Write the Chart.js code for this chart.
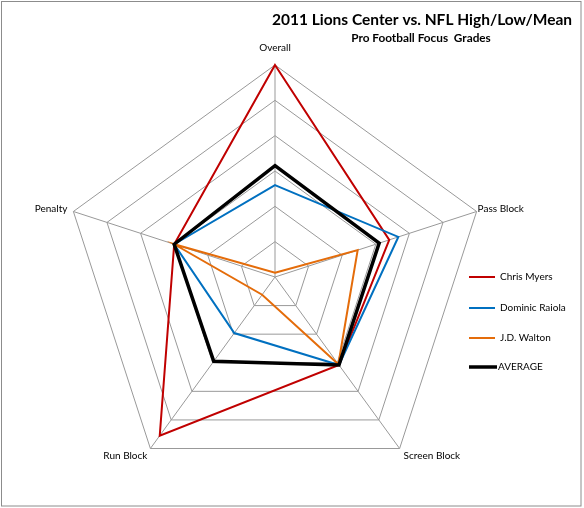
<!DOCTYPE html>
<html>
<head>
<meta charset="utf-8">
<title>2011 Lions Center vs. NFL High/Low/Mean</title>
<script src="https://cdn.jsdelivr.net/npm/chart.js"></script>
<style>
    body { margin: 0; background: #fff; }
    canvas { display: block; }
</style>
</head>
<body>
<canvas id="myChartRadar" width="584" height="508"></canvas>
<script>
// categories, clockwise from the top
let categorias = ['Overall', 'Pass Block', 'Screen Block', 'Run Block', 'Penalty'];

// grades on a 0..6 ring scale (3 = NFL mean)
let chrisMyers = [6.0, 3.4, 3.08, 5.55, 3.0];
let dominicRaiola = [2.6, 3.67, 3.08, 1.96, 3.0];
let jdWalton = [0.12, 2.46, 3.05, 0.62, 3.0];
let media = [3.15, 3.1, 3.08, 2.95, 3.0];

let series = ['Chris Myers', 'Dominic Raiola', 'J.D. Walton', 'AVERAGE'];
let cores = ['#C00000', '#0070C0', '#E46C0A', '#000000'];

let fonte = 'Lato, "Open Sans", sans-serif';

// offsets of each axis label from its outer vertex
let labelOffsets = [
    { dx: 0, dy: -17, align: 'center' },
    { dx: 1, dy: -3, align: 'left' },
    { dx: 4, dy: 7, align: 'left' },
    { dx: -3, dy: 7, align: 'right' },
    { dx: -6, dy: -3, align: 'right' }
];

let extras = {
    id: 'extras',
    afterDraw: function (chart) {
        let ctx = chart.ctx;
        let scale = chart.scales.r;
        ctx.save();

        // frame
        ctx.strokeStyle = '#8c8c8c';
        ctx.lineWidth = 1;
        ctx.strokeRect(1.5, 1.5, 579.5, 504.5);

        // titles
        ctx.fillStyle = '#000';
        ctx.textAlign = 'center';
        ctx.textBaseline = 'middle';
        ctx.font = 'bold 15.5px ' + fonte;
        ctx.fillText('2011 Lions Center vs. NFL High/Low/Mean', 422, 20);
        ctx.font = 'bold 11.8px ' + fonte;
        ctx.fillText('Pro Football Focus  Grades', 421, 38);

        // axis labels
        ctx.font = '10px ' + fonte;
        for (let i in categorias) {
            let p = scale.getPointPosition(i, scale.drawingArea);
            let o = labelOffsets[i];
            ctx.textAlign = o.align;
            ctx.fillText(categorias[i], p.x + o.dx, p.y + o.dy);
        }

        // legend
        let ys = [277, 308, 338, 367];
        ctx.textAlign = 'left';
        for (let i in series) {
            let ds = chart.data.datasets[i];
            ctx.strokeStyle = ds.borderColor;
            ctx.lineWidth = ds.borderWidth;
            ctx.beginPath();
            ctx.moveTo(469, ys[i]);
            ctx.lineTo(i == 3 ? 497 : 495, ys[i]);
            ctx.stroke();
            ctx.fillStyle = '#000';
            ctx.fillText(series[i], i == 3 ? 498 : 500, ys[i]);
        }
        ctx.restore();
    }
};

let valores = [chrisMyers, dominicRaiola, jdWalton, media];
let datasets = [];
for (let i in series) {
    datasets.push({
        label: series[i],
        data: valores[i],
        borderColor: cores[i],
        backgroundColor: cores[i],
        borderWidth: i == 3 ? 3.5 : 2,
        fill: false,
        pointRadius: 0,
        pointHoverRadius: 0,
        order: 4 - i
    });
}

let canvas = document.getElementById('myChartRadar');
let myChartRadar = new Chart(canvas, {
    type: 'radar',
    data: {
        labels: categorias,
        datasets: datasets
    },
    options: {
        responsive: false,
        animation: false,
        layout: {
            padding: { left: 63, top: 65, right: 97, bottom: 19 }
        },
        elements: {
            line: { tension: 0 }
        },
        plugins: {
            legend: { display: false },
            title: { display: false },
            tooltip: { enabled: false }
        },
        scales: {
            r: {
                min: 0,
                max: 6,
                ticks: { display: false, stepSize: 1 },
                pointLabels: { display: false },
                grid: { color: '#999999', lineWidth: 1 },
                angleLines: { color: '#999999', lineWidth: 1 }
            }
        }
    },
    plugins: [extras]
});
</script>
</body>
</html>
